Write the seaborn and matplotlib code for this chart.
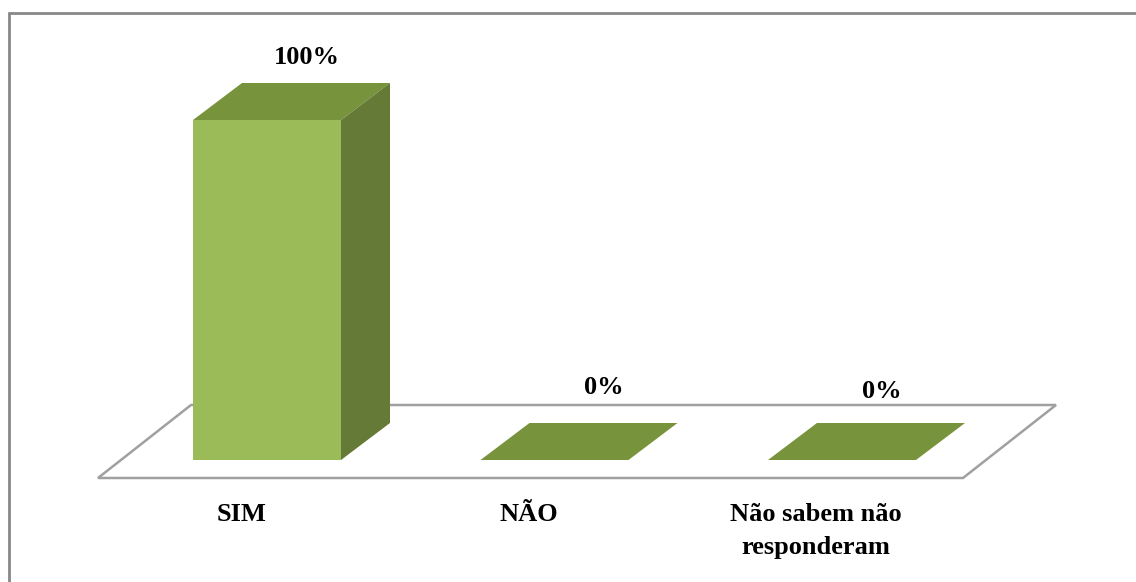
import matplotlib
matplotlib.use("Agg")
import matplotlib.pyplot as plt
from matplotlib.patches import Polygon
from matplotlib.lines import Line2D
import seaborn as sns
import pandas as pd

categories = ["SIM", "NÃO", "Não sabem não\nresponderam"]
values = [100, 0, 0]
value_labels = ["100%", "0%", "0%"]

df = pd.DataFrame({"cat": categories, "val": values})

sns.set_theme(style="white")
plt.rcParams["font.family"] = ["Liberation Serif", "DejaVu Serif"]

W, H = 1136, 582
fig = plt.figure(figsize=(W / 100, H / 100), dpi=100)
ax = fig.add_axes([0, 0, 1, 1])

# pixel geometry -> data mapping
px_per_cat = 287.5
x0_px = 267.0
px_per_unit = 3.4
y0_px = 460.0
XL = (-x0_px / px_per_cat, (W - x0_px) / px_per_cat)
YL = (-(H - y0_px) / px_per_unit, y0_px / px_per_unit)

front_c = "#9BBB59"
top_c = "#77933C"
side_c = "#657A37"

bar_w = 148 / px_per_cat
ddx = 49 / px_per_cat
ddy = 37 / px_per_unit

# layout tweaks for data-label placement (pixels)
label_dx_px = [40, 49, 40]
label_dy_px = [26, 36, 32]

# floor
fdx = 93 / px_per_cat
fdy = 73 / px_per_unit
f_front_y = -18 / px_per_unit
fl = (98 - x0_px) / px_per_cat
fr = (963 - x0_px) / px_per_cat
floor = Polygon([(fl, f_front_y), (fr, f_front_y), (fr + fdx, f_front_y + fdy),
                 (fl + fdx, f_front_y + fdy)], closed=True, facecolor="white",
                edgecolor="#A0A0A0", lw=1.8, zorder=1)
ax.add_patch(floor)

sns.barplot(data=df, x="cat", y="val", color=front_c, saturation=1,
            width=bar_w, ax=ax, zorder=3, linewidth=0)
ax.set_xlim(*XL)
ax.set_ylim(*YL)
ax.axis("off")

for i, v in enumerate(values):
    xl = i - bar_w / 2
    xr = i + bar_w / 2
    top = Polygon([(xl, v), (xr, v), (xr + ddx, v + ddy), (xl + ddx, v + ddy)],
                  closed=True, facecolor=top_c, edgecolor="none", zorder=4)
    ax.add_patch(top)
    if v > 0:
        side = Polygon([(xr, 0), (xr + ddx, ddy), (xr + ddx, v + ddy), (xr, v)],
                       closed=True, facecolor=side_c, edgecolor="none", zorder=4)
        ax.add_patch(side)
    ax.text(i + label_dx_px[i] / px_per_cat, v + ddy + label_dy_px[i] / px_per_unit,
            value_labels[i], ha="center", va="center", fontsize=19,
            fontweight="bold", color="black")
    ax.text(i - 0.09, -(503 - y0_px) / px_per_unit, categories[i], ha="center",
            va="top", fontsize=19, fontweight="bold", color="black",
            linespacing=1.55)

# outer border (top and left only visible)
fig.add_artist(Line2D([8.5 / W, 8.5 / W], [0, 1 - 13 / H], transform=fig.transFigure,
                      color="#888888", lw=2))
fig.add_artist(Line2D([8.5 / W, 1], [1 - 13 / H, 1 - 13 / H], transform=fig.transFigure,
                      color="#888888", lw=2))

fig.savefig("out.png", dpi=100)
